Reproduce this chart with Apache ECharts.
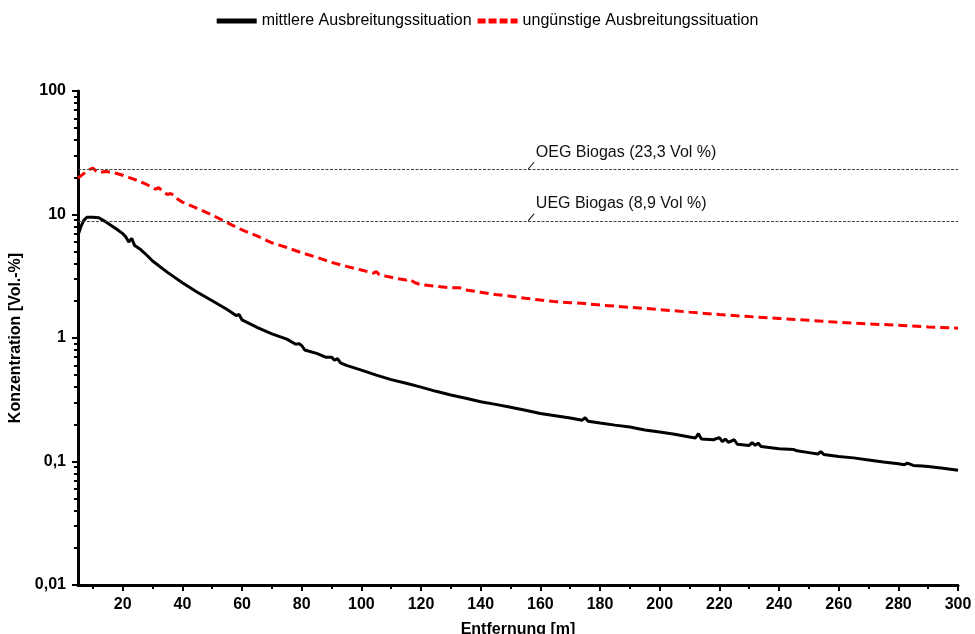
<!DOCTYPE html>
<html>
<head>
<meta charset="utf-8">
<script src="https://cdn.jsdelivr.net/npm/echarts@6/dist/echarts.min.js"></script>
<style>
html, body { margin: 0; padding: 0; background: #fff; }
#main { width: 975px; height: 634px; }
</style>
</head>
<body>
<div id="main"></div>
<script>
// Entfernung [m] / Konzentration [Vol.-%]
var mittelX = [5, 6, 7, 8, 10, 12, 14, 16, 18, 20, 21, 22, 23, 24, 26, 28, 30, 35, 40, 45, 50, 55, 58, 59, 60, 65, 70, 75, 78, 79, 80, 81, 85, 88, 90, 91, 92, 93, 95, 100, 105, 110, 115, 120, 125, 130, 135, 140, 145, 150, 155, 160, 165, 170, 174, 175, 176, 180, 185, 190, 195, 200, 205, 210, 212, 213, 214, 218, 220, 221, 222, 223, 225, 226, 230, 231, 232, 233, 234, 240, 245, 246, 250, 253, 254, 255, 260, 265, 270, 275, 280, 282, 283, 285, 288, 290, 295, 300];
var mittelY = [6.8, 8.0, 9.0, 9.5, 9.5, 9.4, 8.8, 8.2, 7.6, 7.0, 6.6, 6.0, 6.4, 5.6, 5.2, 4.7, 4.2, 3.4, 2.8, 2.35, 2.0, 1.7, 1.52, 1.55, 1.4, 1.22, 1.08, 0.98, 0.89, 0.9, 0.87, 0.8, 0.75, 0.7, 0.7, 0.66, 0.68, 0.63, 0.6, 0.55, 0.5, 0.46, 0.43, 0.4, 0.37, 0.345, 0.325, 0.305, 0.29, 0.275, 0.26, 0.245, 0.235, 0.225, 0.216, 0.226, 0.212, 0.205, 0.197, 0.19, 0.18, 0.173, 0.166, 0.158, 0.155, 0.168, 0.152, 0.15, 0.156, 0.145, 0.152, 0.143, 0.15, 0.138, 0.135, 0.142, 0.135, 0.141, 0.132, 0.127, 0.125, 0.122, 0.118, 0.115, 0.12, 0.114, 0.11, 0.107, 0.103, 0.099, 0.096, 0.094, 0.097, 0.093, 0.092, 0.091, 0.088, 0.085];

var unguenstigX = [5, 7, 9, 10, 11, 12, 14, 16, 18, 20, 22, 25, 28, 30, 31, 32, 34, 35, 36, 37, 38, 40, 42, 45, 50, 55, 60, 65, 70, 75, 80, 85, 90, 95, 100, 104, 105, 106, 110, 113, 115, 116, 118, 120, 125, 130, 133, 135, 140, 145, 150, 155, 160, 165, 170, 175, 180, 190, 200, 210, 220, 230, 240, 250, 260, 270, 280, 290, 300];
var unguenstigY = [19.7, 21.5, 23.2, 23.8, 22.5, 21.8, 22.3, 22.0, 21.5, 20.8, 20.0, 18.8, 17.5, 16.6, 16.0, 16.5, 15.0, 14.5, 14.8, 14.4, 13.5, 12.6, 12.0, 11.2, 9.9, 8.6, 7.5, 6.7, 5.9, 5.4, 4.9, 4.5, 4.1, 3.8, 3.55, 3.35, 3.45, 3.25, 3.1, 3.0, 2.95, 3.0, 2.8, 2.7, 2.62, 2.55, 2.55, 2.45, 2.35, 2.25, 2.18, 2.1, 2.03, 1.97, 1.93, 1.9, 1.85, 1.77, 1.7, 1.62, 1.55, 1.49, 1.44, 1.39, 1.34, 1.3, 1.27, 1.23, 1.2];

// Grenzwerte
var grenzNamen = ['OEG Biogas (23,3 Vol %)', 'UEG Biogas (8,9 Vol %)'];
var grenzWerte = [23.3, 8.9];
var grenzLabelX = 155.9;

var xTicks = [20, 40, 60, 80, 100, 120, 140, 160, 180, 200, 220, 240, 260, 280, 300];
var xMinorTicks = [10, 30, 50, 70, 90, 110, 130, 150, 170, 190, 210, 230, 250, 270, 290];
var yTicks = [0.01, 0.1, 1, 10, 100];
var yMinorTicks = [];
[0.01, 0.1, 1, 10].forEach(function (d) {
	for (var k = 2; k <= 9; k++) yMinorTicks.push(+(d * k).toPrecision(3));
});

function pairs(xs, ys) {
	return xs.map(function (x, i) { return [x, ys[i]]; });
}

var font = "'Liberation Sans', Arial, sans-serif";

var chart = echarts.init(document.getElementById('main'));
var option = {
	animation: false,
	textStyle: { fontFamily: font },
	legend: {
		top: 8,
		left: 'center',
		itemWidth: 40,
		itemHeight: 5,
		itemGap: 6,
		textStyle: { fontSize: 16, color: '#000', fontFamily: font },
		data: [{
			name: 'mittlere Ausbreitungssituation',
			icon: 'rect'
		}, {
			name: 'ungünstige Ausbreitungssituation',
			icon: 'path://M0,0h8v5h-8z M11,0h8v5h-8z M22,0h8v5h-8z M33,0h7v5h-7z'
		}]
	},
	grid: { left: 78, right: 17, top: 91, bottom: 49, outerBoundsMode: 'none', containLabel: false },
	xAxis: [{
		type: 'value',
		min: 5,
		max: 300,
		name: 'Entfernung [m]',
		nameLocation: 'middle',
		nameGap: 37,
		nameTextStyle: { fontSize: 16, fontWeight: 'bold', color: '#000', fontFamily: font },
		axisLine: { lineStyle: { color: '#000', width: 3 } },
		axisTick: { length: 6, lineStyle: { width: 2, color: '#000' }, customValues: xTicks },
		axisLabel: { fontSize: 16, fontWeight: 'bold', color: '#000', margin: 12, customValues: xTicks },
		splitLine: { show: false }
	}, {
		type: 'value',
		min: 5,
		max: 300,
		position: 'bottom',
		axisLine: { show: false },
		axisTick: { length: 4, lineStyle: { width: 2, color: '#000' }, customValues: xMinorTicks },
		axisLabel: { show: false },
		splitLine: { show: false }
	}],
	yAxis: [{
		type: 'log',
		logBase: 10,
		min: 0.01,
		max: 100,
		name: 'Konzentration [Vol.-%]',
		nameLocation: 'middle',
		nameGap: 48,
		nameTextStyle: { fontSize: 16, fontWeight: 'bold', color: '#000', fontFamily: font },
		axisLine: { show: true, lineStyle: { color: '#000', width: 3 } },
		axisTick: { show: true, length: 6, lineStyle: { width: 2, color: '#000' }, customValues: yTicks },
		axisLabel: {
			fontSize: 16, fontWeight: 'bold', color: '#000', margin: 12, customValues: yTicks,
			formatter: function (v) { return String(+(+v).toPrecision(3)).replace('.', ','); }
		},
		splitLine: { show: false }
	}, {
		type: 'log',
		logBase: 10,
		min: 0.01,
		max: 100,
		position: 'left',
		axisLine: { show: false },
		axisTick: { show: true, length: 4, lineStyle: { width: 2, color: '#000' }, customValues: yMinorTicks },
		axisLabel: { show: false },
		splitLine: { show: false }
	}],
	series: [{
		name: 'mittlere Ausbreitungssituation',
		type: 'line',
		symbol: 'none',
		data: pairs(mittelX, mittelY),
		lineStyle: { color: '#000', width: 3 },
		itemStyle: { color: '#000' },
		markLine: {
			silent: true,
			symbol: 'none',
			label: { show: false },
			lineStyle: { color: '#444', type: [3, 1.5], width: 1 },
			data: grenzWerte.map(function (v) { return { yAxis: v }; })
		},
		markPoint: {
			silent: true,
			symbol: 'path://M0,7 L6,0',
			symbolSize: [6, 7],
			symbolOffset: ['50%', '-50%'],
			itemStyle: { color: 'none', borderColor: '#222', borderWidth: 1 },
			label: {
				show: true,
				position: [10, -15],
				fontSize: 16,
				color: '#111',
				fontFamily: font,
				formatter: function (p) { return p.name; }
			},
			data: grenzWerte.map(function (v, i) {
				return { name: grenzNamen[i], coord: [grenzLabelX, v] };
			})
		}
	}, {
		name: 'ungünstige Ausbreitungssituation',
		type: 'line',
		symbol: 'none',
		data: pairs(unguenstigX, unguenstigY),
		lineStyle: { color: '#ff0000', width: 3, type: [9, 5] },
		itemStyle: { color: '#ff0000' }
	}]
};
chart.setOption(option);
</script>
</body>
</html>
